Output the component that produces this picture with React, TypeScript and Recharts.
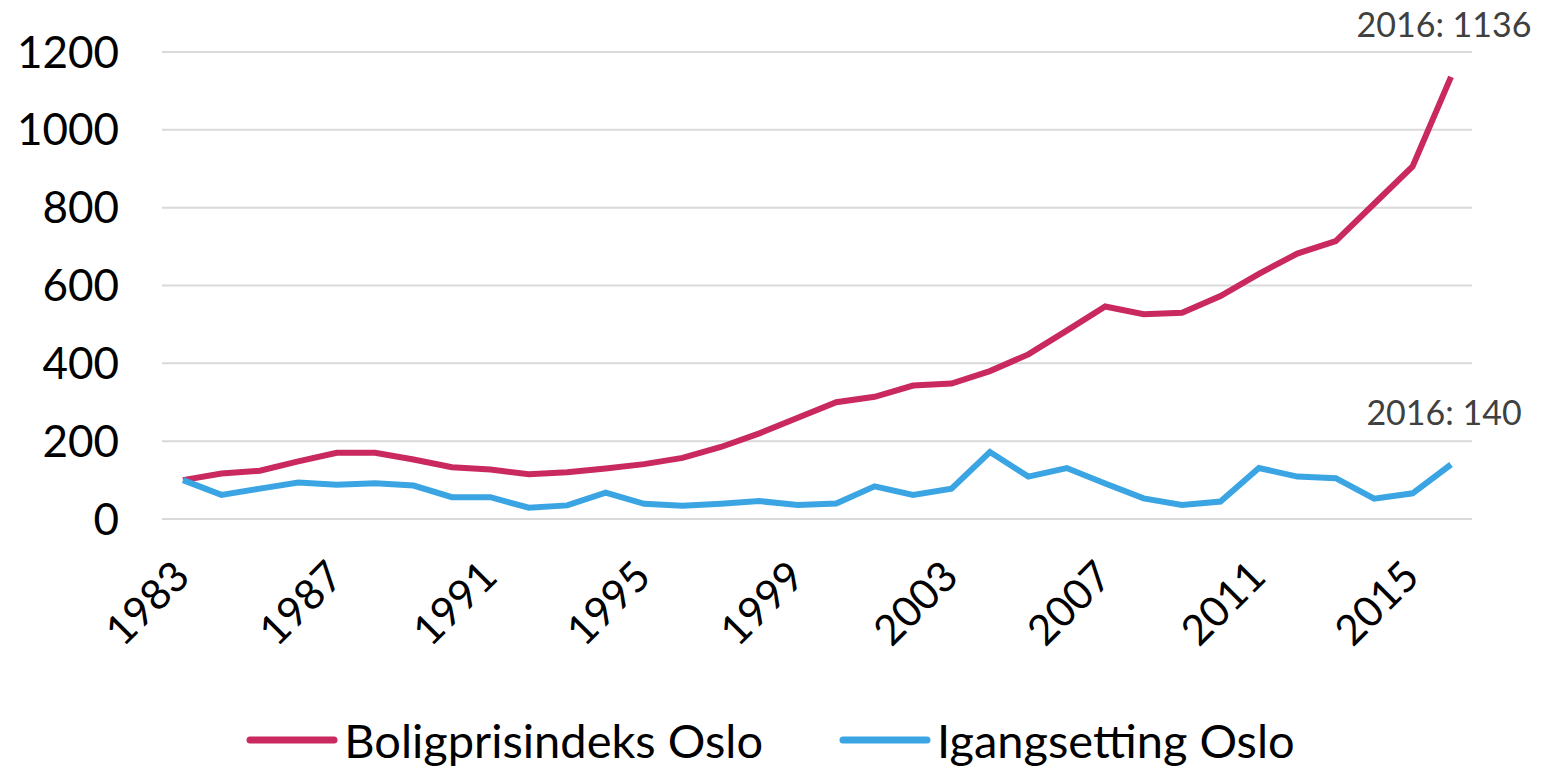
import React from 'react';
import {
  LineChart,
  Line,
  XAxis,
  YAxis,
  CartesianGrid,
  Legend,
} from 'recharts';

const years = [
  1983, 1984, 1985, 1986, 1987, 1988, 1989, 1990, 1991, 1992, 1993, 1994,
  1995, 1996, 1997, 1998, 1999, 2000, 2001, 2002, 2003, 2004, 2005, 2006,
  2007, 2008, 2009, 2010, 2011, 2012, 2013, 2014, 2015, 2016,
];

const boligpris = [
  100, 117, 124, 148, 170, 170, 153, 133, 127, 115, 120, 130,
  141, 157, 185, 220, 260, 300, 314, 343, 348, 380, 423, 484,
  546, 526, 530, 573, 630, 682, 714, 810, 906, 1136,
];

const igangsetting = [
  100, 62, 78, 94, 88, 92, 86, 56, 56, 29, 35, 68,
  39, 34, 39, 46, 36, 40, 84, 62, 78, 172, 109, 131,
  91, 53, 36, 45, 131, 109, 105, 52, 66, 140,
];

const yTicks = [0, 200, 400, 600, 800, 1000, 1200];

const RED = '#c9295f';
const BLUE = '#3ba5e4';
const FONT = 'Lato, "Open Sans", sans-serif';

const data = years.map((year, i) => ({
  year,
  bolig: boligpris[i],
  igang: igangsetting[i],
}));

const lastIndex = years.length - 1;

function YearTick({ x, y, payload }: any) {
  const tx = x + 9;
  const ty = y + 52;
  return (
    <text
      x={tx}
      y={ty}
      transform={`rotate(-45 ${tx} ${ty})`}
      textAnchor="end"
      fontSize={42}
      fontFamily={FONT}
      fill="#000"
    >
      {payload.value}
    </text>
  );
}

function EndLabel({ x, y, index, value }: any) {
  if (index !== lastIndex) return null;
  return (
    <text
      x={x - 7}
      y={y - 40}
      textAnchor="middle"
      fontSize={34}
      fontFamily={FONT}
      fill="#404040"
    >
      {`2016: ${value}`}
    </text>
  );
}

function LegendContent() {
  const items = [
    { label: 'Boligprisindeks Oslo', color: RED },
    { label: 'Igangsetting Oslo', color: BLUE },
  ];
  return (
    <div
      style={{
        display: 'flex',
        justifyContent: 'center',
        alignItems: 'center',
        gap: 76,
        fontFamily: FONT,
        fontSize: 47,
        color: '#000',
        marginTop: 4,
        paddingRight: 8,
      }}
    >
      {items.map((it) => (
        <div key={it.label} style={{ display: 'flex', alignItems: 'center' }}>
          <svg width={92} height={10} style={{ marginRight: 6 }}>
            <line
              x1={4}
              y1={5}
              x2={88}
              y2={5}
              stroke={it.color}
              strokeWidth={7}
              strokeLinecap="round"
            />
          </svg>
          <span>{it.label}</span>
        </div>
      ))}
    </div>
  );
}

export default function App() {
  return (
    <div style={{ position: 'absolute', left: 0, top: 0, background: '#fff' }}>
      <LineChart
        width={1549}
        height={768}
        data={data}
        margin={{ top: 52, right: 77, left: 0, bottom: 0 }}
      >
        <CartesianGrid vertical={false} stroke="#d9d9d9" strokeWidth={2} />
        <XAxis
          dataKey="year"
          interval={3}
          tickLine={false}
          axisLine={false}
          height={189}
          padding={{ left: 21, right: 21 }}
          tick={<YearTick />}
        />
        <YAxis
          domain={[0, 1200]}
          ticks={yTicks}
          width={162}
          tickLine={false}
          axisLine={false}
          tickMargin={37}
          tick={{ fontSize: 44, fontFamily: FONT, fill: '#000' }}
        />
        <Legend
          verticalAlign="bottom"
          height={60}
          wrapperStyle={{ left: 0, width: 1549 }}
          content={<LegendContent />}
        />
        <Line
          type="linear"
          dataKey="bolig"
          name="Boligprisindeks Oslo"
          stroke={RED}
          strokeWidth={6}
          dot={false}
          isAnimationActive={false}
          label={<EndLabel />}
        />
        <Line
          type="linear"
          dataKey="igang"
          name="Igangsetting Oslo"
          stroke={BLUE}
          strokeWidth={6}
          dot={false}
          isAnimationActive={false}
          label={<EndLabel />}
        />
      </LineChart>
    </div>
  );
}
